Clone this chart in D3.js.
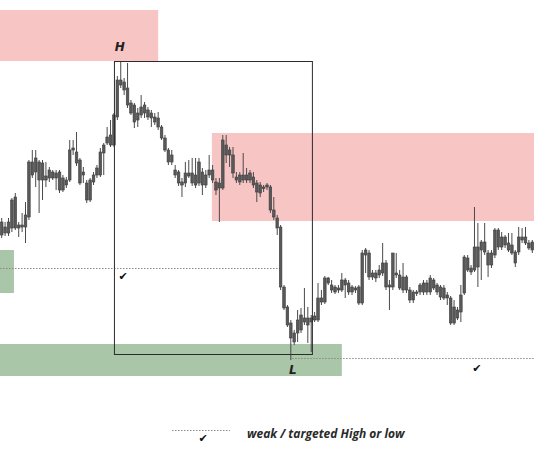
<!DOCTYPE html>
<html>
<head>
<meta charset="utf-8">
<script src="https://cdn.jsdelivr.net/npm/d3@7"></script>
<style>
  body { margin: 0; background: #fff; }
  svg { display: block; }
</style>
</head>
<body>
<svg width="534" height="462"></svg>
<script>
// candle OHLC, price units (chart)
var open  = [165,173,167,172,203,172,175,173,183,238,228,238,220,224,222,228,222,228,210,220,
             220,250,248,240,225,217,200,218,225,225,247,257,265,255,283,320,318,312,297,295,
             280,285,287,290,287,283,282,273,262,250,238,230,228,215,217,227,227,215,217,228,
             215,225,230,218,212,212,255,245,245,223,218,225,220,227,223,217,207,213,213,213,
             190,182,173,113,93,77,58,67,85,78,82,78,80,80,102,98,122,115,108,112,
             110,120,117,108,112,113,97,145,147,123,127,125,127,137,113,113,127,125,110,123,
             110,100,108,108,108,117,108,120,115,113,112,105,102,77,90,88,107,142,128,130,
             153,150,158,147,135,145,170,153,163,157,155,148,148,163,157,157,150];
var high  = [182,178,182,202,207,178,187,198,240,250,250,240,240,238,233,230,230,230,225,223,
             260,260,268,242,233,220,222,228,235,252,257,273,280,287,324,338,322,337,300,297,
             292,305,298,293,290,287,288,275,265,252,250,235,230,222,238,240,242,242,242,232,
             230,245,235,222,222,265,265,253,253,228,228,247,232,230,228,220,218,215,217,215,
             203,185,175,115,95,80,70,90,92,112,93,85,88,117,110,124,123,120,115,115,
             127,122,120,115,114,115,150,152,150,130,130,135,157,140,120,147,147,130,137,125,
             113,110,110,117,120,120,125,122,117,115,115,108,104,100,93,115,145,145,135,193,
             177,160,177,150,150,172,172,168,165,167,167,150,173,172,173,160,160];
var low   = [162,164,164,168,170,163,168,157,180,222,213,187,200,213,218,220,210,207,208,212,
             218,245,234,215,217,197,198,215,222,223,225,255,253,253,280,312,305,292,285,272,
             273,282,282,280,273,275,270,260,248,235,235,222,214,203,213,222,214,212,214,205,
             212,222,217,205,178,210,237,233,222,217,215,217,217,217,212,198,203,208,210,187,
             180,165,110,90,73,40,55,58,67,75,57,48,78,78,95,96,115,107,106,107,
             108,102,105,105,107,95,95,127,120,120,118,122,124,110,90,110,122,110,107,107,
             97,97,104,105,105,105,105,110,105,100,100,95,75,75,80,78,105,128,125,128,
             113,120,145,123,132,142,150,150,152,148,145,133,145,157,155,150,147];
var close = [178,167,178,200,172,175,173,185,238,225,242,220,237,220,230,222,227,210,222,215,
             250,252,237,217,228,200,220,225,232,248,255,263,255,285,320,315,310,295,287,278,
             287,293,295,283,282,278,273,262,250,238,245,225,217,218,227,224,217,225,238,215,
             225,230,220,210,217,260,245,250,227,220,225,220,225,220,215,208,215,212,215,190,
             183,172,113,92,75,62,67,80,70,82,75,82,84,102,98,122,117,110,113,110,
             120,115,108,113,110,97,147,150,123,127,122,130,137,113,115,147,125,112,123,110,
             100,108,107,115,117,108,122,112,108,103,102,102,77,93,82,105,143,130,132,153,
             133,158,148,135,147,170,153,163,155,150,147,137,163,160,163,152,158];

// zones: [priceTop, priceBottom, barFrom, barTo]
var supplyHigh = [390, 339, -0.5, 46];
var supplyMid  = [267, 179, 61.8, 156.5];
var demandLeft = [150, 107, -0.5, 3.6];
var demandLow  = [56, 24, -0.5, 100];
var rangeBox   = [339, 46, 33, 91.2];
// dotted "weak" levels: [price, barFrom, barTo]
var weakLevels = [[132, -0.5, 82.4], [42, 85.4, 156.5]];
// check marks: [bar, price]
var checks = [[35.7, 124], [139.7, 32]];
var highBar = 35, lowBar = 85;
var legendText = "weak / targeted High or low";

var svg = d3.select("svg"),
    width = +svg.attr("width"),
    height = +svg.attr("height"),
    n = open.length;

var x = d3.scaleLinear().domain([-0.5, n - 0.5]).range([0, width]);
var y = d3.scaleLinear().domain([0, 400]).range([400, 0]);

function zone(z, color) {
  svg.append("rect")
    .attr("x", x(z[2]))
    .attr("y", y(z[0]))
    .attr("width", x(z[3]) - x(z[2]))
    .attr("height", y(z[1]) - y(z[0]))
    .attr("fill", color);
}
zone(supplyHigh, "#f8c5c5");
zone(supplyMid, "#f8c5c5");
zone(demandLeft, "#a9c6a9");
zone(demandLow, "#a9c6a9");

svg.selectAll(".weak").data(weakLevels).enter().append("line")
  .attr("x1", function(d) { return x(d[1]); })
  .attr("x2", function(d) { return x(d[2]); })
  .attr("y1", function(d) { return y(d[0]) + 0.5; })
  .attr("y2", function(d) { return y(d[0]) + 0.5; })
  .attr("stroke", "#8a8a8a")
  .attr("stroke-width", 1)
  .attr("stroke-dasharray", "1.5,1.5");

var idx = d3.range(n);
var bw = 2.6;
var g = svg.append("g");

g.selectAll(".wick").data(idx).enter().append("line")
  .attr("x1", function(i) { return x(i); })
  .attr("x2", function(i) { return x(i); })
  .attr("y1", function(i) { return y(high[i]); })
  .attr("y2", function(i) { return y(low[i]); })
  .attr("stroke", "#4a4a4a")
  .attr("stroke-width", 1);

g.selectAll(".body").data(idx).enter().append("rect")
  .attr("x", function(i) { return x(i) - bw / 2; })
  .attr("y", function(i) { return y(Math.max(open[i], close[i])); })
  .attr("width", bw)
  .attr("height", function(i) { return Math.max(1.5, Math.abs(y(open[i]) - y(close[i]))); })
  .attr("fill", "#595959")
  .attr("stroke", "#3c3c3c")
  .attr("stroke-width", 0.6);

svg.append("rect")
  .attr("x", x(rangeBox[2]) + 0.5)
  .attr("y", y(rangeBox[0]) + 0.5)
  .attr("width", x(rangeBox[3]) - x(rangeBox[2]))
  .attr("height", y(rangeBox[1]) - y(rangeBox[0]))
  .attr("fill", "none")
  .attr("stroke", "#2b2b2b")
  .attr("stroke-width", 1);

svg.append("text")
  .attr("x", x(highBar) - 1)
  .attr("y", y(high[highBar]) - 11)
  .attr("text-anchor", "middle")
  .attr("font-family", "DejaVu Sans, sans-serif")
  .attr("font-size", 12)
  .attr("font-weight", "bold")
  .attr("font-style", "italic")
  .attr("fill", "#222")
  .text("H");

svg.append("text")
  .attr("x", x(lowBar) + 2)
  .attr("y", y(low[lowBar]) + 14)
  .attr("text-anchor", "middle")
  .attr("font-family", "DejaVu Sans, sans-serif")
  .attr("font-size", 12)
  .attr("font-weight", "bold")
  .attr("font-style", "italic")
  .attr("fill", "#222")
  .text("L");

svg.selectAll(".check").data(checks).enter().append("text")
  .attr("x", function(d) { return x(d[0]); })
  .attr("y", function(d) { return y(d[1]) + 4; })
  .attr("text-anchor", "middle")
  .attr("font-family", "DejaVu Sans, sans-serif")
  .attr("font-size", 11)
  .attr("fill", "#111")
  .text("\u2714");

// legend
var lg = svg.append("g").attr("transform", "translate(172,430)");
lg.append("line")
  .attr("x1", 0).attr("x2", 58).attr("y1", 0.5).attr("y2", 0.5)
  .attr("stroke", "#8a8a8a")
  .attr("stroke-dasharray", "1.5,1.5");
lg.append("text")
  .attr("x", 31).attr("y", 12)
  .attr("text-anchor", "middle")
  .attr("font-family", "DejaVu Sans, sans-serif")
  .attr("font-size", 11)
  .attr("fill", "#111")
  .text("\u2714");
lg.append("text")
  .attr("x", 75).attr("y", 8)
  .attr("font-family", "Open Sans, sans-serif")
  .attr("font-size", 12)
  .attr("font-weight", "bold")
  .attr("font-style", "italic")
  .attr("fill", "#2a2a2a")
  .text(legendText);
</script>
</body>
</html>
